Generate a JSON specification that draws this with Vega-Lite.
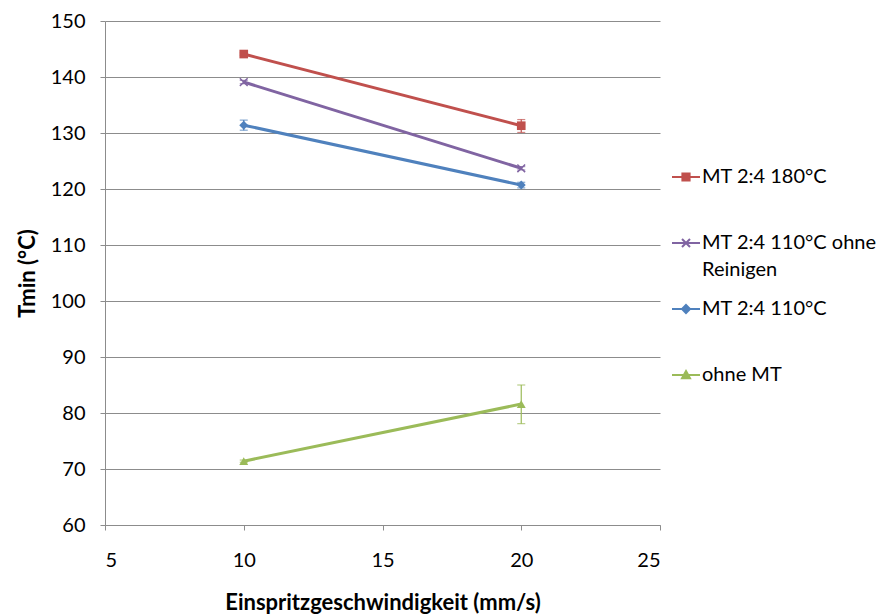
{
  "$schema": "https://vega.github.io/schema/vega-lite/v6.json",
  "width": 555,
  "height": 504,
  "autosize": {"type": "none"},
  "padding": {"left": 105, "top": 21, "right": 230, "bottom": 89},
  "background": "white",
  "config": {
    "font": "Lato",
    "view": {"stroke": null},
    "axis": {
      "labelFont": "Lato",
      "titleFont": "Lato",
      "labelFontSize": 20,
      "titleFontSize": 22,
      "titleFontWeight": "bold",
      "labelColor": "#000",
      "titleColor": "#000",
      "domainColor": "#8c8c8c",
      "tickColor": "#8c8c8c",
      "gridColor": "#8c8c8c",
      "tickSize": 5
    }
  },
  "data": {
    "values": [
      {"series": "MT 2:4 180°C", "v": 10, "t": 144.1, "lo": 143.9, "hi": 144.3},
      {"series": "MT 2:4 180°C", "v": 20, "t": 131.3, "lo": 130.1, "hi": 132.4},
      {"series": "MT 2:4 110°C ohne Reinigen", "v": 10, "t": 139.1, "lo": 138.8, "hi": 139.4},
      {"series": "MT 2:4 110°C ohne Reinigen", "v": 20, "t": 123.7, "lo": 123.4, "hi": 124.0},
      {"series": "MT 2:4 110°C", "v": 10, "t": 131.4, "lo": 130.5, "hi": 132.3},
      {"series": "MT 2:4 110°C", "v": 20, "t": 120.7, "lo": 120.2, "hi": 121.2},
      {"series": "ohne MT", "v": 10, "t": 71.4, "lo": 71.2, "hi": 71.6},
      {"series": "ohne MT", "v": 20, "t": 81.6, "lo": 78.1, "hi": 85.0}
    ]
  },
  "encoding": {
    "x": {
      "field": "v", "type": "quantitative",
      "scale": {"domain": [5, 25], "nice": false},
      "axis": {"values": [5, 10, 15, 20, 25], "title": "Einspritzgeschwindigkeit (mm/s)", "grid": false, "titlePadding": 22, "labelPadding": 20}
    },
    "y": {"field": "t", "type": "quantitative", "scale": {"domain": [60, 150], "nice": false},
      "axis": {"values": [60, 70, 80, 90, 100, 110, 120, 130, 140, 150], "title": "Tmin (°C)", "grid": true, "titlePadding": 11, "labelPadding": 15}},
    "color": {"field": "series", "type": "nominal",
      "scale": {"domain": ["MT 2:4 180°C", "MT 2:4 110°C ohne Reinigen", "MT 2:4 110°C", "ohne MT"],
                "range": ["#C0504D", "#8064A2", "#4F81BD", "#9BBB59"]},
      "legend": {
        "title": null,
        "orient": "none",
        "legendX": 571,
        "legendY": 146,
        "labelFont": "Lato",
        "labelFontSize": 20,
        "labelColor": "#000",
        "labelLimit": 300,
        "labelOffset": 6,
        "symbolSize": 64,
        "symbolStrokeWidth": 2,
        "rowPadding": 19,
        "labelExpr": "datum.label == 'MT 2:4 110°C ohne Reinigen' ? ['MT 2:4 110°C ohne', 'Reinigen'] : [datum.label, '']",
        "encode": {
          "labels": {"update": {"lineHeight": {"value": 27}}},
          "symbols": {
            "update": {
              "shape": {"signal": "datum.value == 'MT 2:4 180°C' ? 'M-3.5,0H3.5M-0.9,-0.9H0.9V0.9H-0.9Z' : datum.value == 'MT 2:4 110°C ohne Reinigen' ? 'M-3.5,0H3.5M-1,-1L1,1M-1,1L1,-1' : datum.value == 'MT 2:4 110°C' ? 'M-3.5,0H3.5M0,-1L1,0L0,1L-1,0Z' : 'M-3.5,0H3.5M0,-1L1,0.8L-1,0.8Z'"},
              "stroke": {"signal": "scale('color', datum.value)"},
              "fill": {"signal": "scale('color', datum.value)"}
            }
          }
        }
      }
    }
  },
  "layer": [
    {
      "mark": {"type": "errorbar", "ticks": {"size": 8}, "thickness": 1.2},
      "encoding": {
        "y": {"field": "lo", "type": "quantitative"},
        "y2": {"field": "hi"}
      }
    },
    {
      "mark": {"type": "line", "strokeWidth": 3}
    },
    {
      "transform": [{"filter": "datum.series == 'MT 2:4 180°C'"}],
      "mark": {"type": "point", "filled": true, "opacity": 1, "size": 75, "shape": "square"}
    },
    {
      "transform": [{"filter": "datum.series == 'MT 2:4 110°C ohne Reinigen'"}],
      "mark": {"type": "point", "filled": false, "opacity": 1, "size": 60, "strokeWidth": 1.5, "shape": "M-1,-1L1,1M-1,1L1,-1"}
    },
    {
      "transform": [{"filter": "datum.series == 'MT 2:4 110°C'"}],
      "mark": {"type": "point", "filled": true, "opacity": 1, "size": 80, "shape": "diamond"}
    },
    {
      "transform": [{"filter": "datum.series == 'ohne MT'"}],
      "mark": {"type": "point", "filled": true, "opacity": 1, "size": 80, "shape": "triangle-up"}
    }
  ]
}
